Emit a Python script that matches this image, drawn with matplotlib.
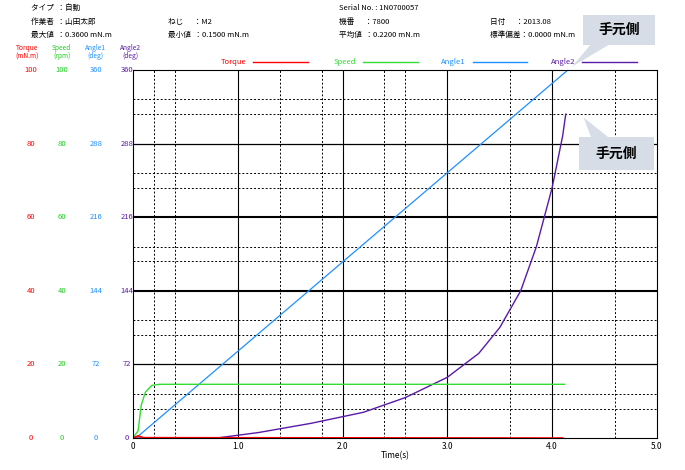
import matplotlib
matplotlib.use("Agg")
import matplotlib.pyplot as plt
from matplotlib.patches import Polygon, FancyBboxPatch

plt.rcParams['font.family'] = ['Noto Sans CJK JP', 'DejaVu Sans']

angle1_t = [0.0, 0.05, 4.15]
angle1_v = [0.0, 0.5, 100.0]
angle2_t = [0.0, 0.8, 1.2, 1.7, 2.2, 2.6, 3.0, 3.3, 3.5, 3.7, 3.85, 4.0, 4.1, 4.13]
angle2_v = [0.0, 0.0, 1.5, 4.0, 7.0, 11.0, 16.5, 23.0, 30.0, 40.0, 52.0, 68.0, 82.0, 88.0]
speed_t = [0.0, 0.05, 0.08, 0.12, 0.18, 0.25, 4.12]
speed_v = [0.0, 2.0, 9.0, 12.5, 14.3, 14.6, 14.6]
torque_t = [0.0, 0.05, 0.1, 4.1]
torque_v = [0.0, 0.6, 0.1, 0.0]

xticks = [0, 1.0, 2.0, 3.0, 4.0, 5.0]
xtick_labels = ['0', '1.0', '2.0', '3.0', '4.0', '5.0']
torque_ticks = ['0', '20', '40', '60', '80', '100']
speed_ticks = ['0', '20', '40', '60', '80', '100']
angle1_ticks = ['0', '72', '144', '216', '288', '360']
angle2_ticks = ['0', '72', '144', '216', '288', '360']

fig = plt.figure(figsize=(6.85, 4.7), dpi=100)
ax = fig.add_axes([0.194, 0.068, 0.765, 0.783])
ax.set_xlim(0, 5)
ax.set_ylim(0, 100)

for x in [0.2, 0.4, 1.4, 1.8, 2.4, 2.6, 3.6, 4.6]:
    ax.axvline(x, color='black', lw=0.7, ls=(0, (2, 2)))
for x in [1, 2, 3, 4]:
    ax.axvline(x, color='black', lw=0.8)
for k in range(5):
    for d in (8, 12):
        ax.axhline(20 * k + d, color='black', lw=0.7, ls=(0, (2, 2)))
for y in [20, 80]:
    ax.axhline(y, color='black', lw=0.9)
for y in [40, 60]:
    ax.axhline(y, color='black', lw=1.5)

ax.plot(angle1_t, angle1_v, color='#1e90ff', lw=0.9)
ax.plot(angle2_t, angle2_v, color='#5a1aa8', lw=1.0)
ax.plot(speed_t, speed_v, color='#33dd33', lw=1.0)
ax.plot(torque_t, torque_v, color='red', lw=1.2)

ax.set_xticks(xticks)
ax.set_xticklabels(xtick_labels, fontsize=6)
ax.set_yticks([])
ax.tick_params(axis='x', length=0, pad=3)
ax.set_xlabel('Time(s)', fontsize=6, labelpad=0)

cols = [(0.045, torque_ticks, 'red'), (0.09, speed_ticks, '#22cc22'),
        (0.14, angle1_ticks, '#1e90ff'), (0.185, angle2_ticks, '#5a1aa8')]
for xf, labs, c in cols:
    for i, lab in enumerate(labs):
        yv = i * 20
        yf = 0.068 + 0.783 * yv / 100
        fig.text(xf, yf, lab, color=c, fontsize=5.5, ha='center', va='center')

heads = [(0.04, 'Torque\n(mN.m)', 'red'), (0.09, 'Speed\n(rpm)', '#22cc22'),
         (0.14, 'Angle1\n(deg)', '#1e90ff'), (0.19, 'Angle2\n(deg)', '#5a1aa8')]
for xf, t, c in heads:
    fig.text(xf, 0.889, t, color=c, fontsize=4.8, ha='center', va='center', linespacing=1.0)

legend = [(0.37, 'Torque', 'red'), (0.53, 'Speed', '#33dd33'),
          (0.69, 'Angle1', '#1e90ff'), (0.85, 'Angle2', '#5a1aa8')]
for xf, t, c in legend:
    fig.text(xf - 0.01, 0.868, t, color=c, fontsize=5.5, ha='right', va='center')
    fig.add_artist(plt.Line2D([xf, xf + 0.08], [0.868, 0.868], color=c, lw=1, transform=fig.transFigure))

info = [
    (0.045, 0.983, 'タイプ  ：自動'), (0.045, 0.954, '作業者  ：山田太郎'), (0.045, 0.925, '最大値  ：0.3600 mN.m'),
    (0.245, 0.954, 'ねじ      ：M2'), (0.245, 0.925, '最小値  ：0.1500 mN.m'),
    (0.495, 0.983, 'Serial No. : 1N0700057'), (0.495, 0.954, '機番      ：7800'), (0.495, 0.925, '平均値  ：0.2200 mN.m'),
    (0.715, 0.954, '日付      ：2013.08'), (0.715, 0.925, '標準偏差：0.0000 mN.m'),
]
for xf, yf, t in info:
    fig.text(xf, yf, t, fontsize=5.5, ha='left', va='center')

def callout(x0, y0, w, h, tip, base):
    fig.add_artist(Polygon([base[0], base[1], tip], closed=True, transform=fig.transFigure,
                           facecolor='#d6dde6', edgecolor='none'))
    fig.add_artist(FancyBboxPatch((x0, y0), w, h, boxstyle='square,pad=0', transform=fig.transFigure,
                                  facecolor='#d6dde6', edgecolor='none'))
    fig.text(x0 + w / 2, y0 + h / 2, '手元側', fontsize=10, fontweight='bold', ha='center', va='center')

callout(0.851, 0.904, 0.105, 0.064, (0.835, 0.858), [(0.865, 0.91), (0.895, 0.91)])
callout(0.845, 0.638, 0.11, 0.07, (0.852, 0.75), [(0.865, 0.7), (0.895, 0.7)])

fig.savefig('out.png', dpi=100)
